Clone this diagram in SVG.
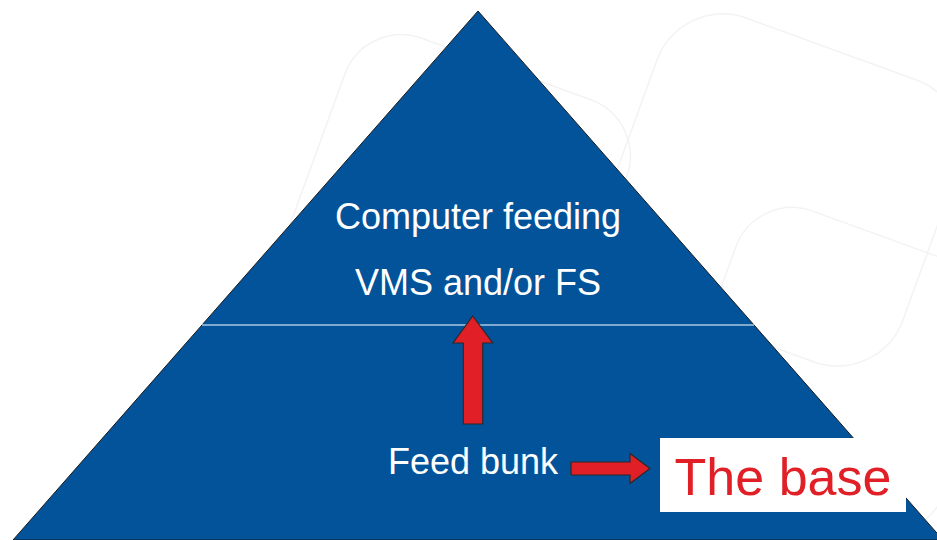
<svg xmlns="http://www.w3.org/2000/svg" width="937" height="540" viewBox="0 0 937 540">
<style>
.lbl{font-family:"Liberation Sans",Arial,sans-serif;fill:#ffffff;text-anchor:middle;font-size:36px}
.arrow{fill:#e01f26;stroke:#2a2a2a;stroke-width:1.2;stroke-linejoin:miter}
.bg{fill:none;stroke:#f3f3f3;stroke-width:1.5}
</style>
<rect width="937" height="540" fill="#ffffff"/>
<g id="background">
<rect class="bg" x="305" y="60" width="300" height="300" rx="60" transform="rotate(20 455 210)"/>
<rect class="bg" x="620" y="40" width="320" height="300" rx="70" transform="rotate(20 780 190)"/>
<rect class="bg" x="700" y="230" width="280" height="280" rx="60" transform="rotate(20 840 370)"/>
</g>
<g id="pyramid">
<polygon points="478,11 13,540 943,540" fill="#03539b" stroke="#1a1a1a" stroke-width="1"/>
<line x1="202" y1="325" x2="754" y2="325" stroke="#a9c7e2" stroke-width="1.5"/>
</g>
<g id="top">
<text class="lbl" x="478" y="229">Computer feeding</text>
<text class="lbl" x="478" y="295">VMS and/or FS</text>
</g>
<g id="bottom">
<text class="lbl" x="473" y="474">Feed bunk</text>
</g>
<g id="base-label">
<rect x="660" y="438" width="246" height="74" fill="#ffffff"/>
<text x="783" y="495" font-family="'Liberation Sans',Arial,sans-serif" font-size="52" fill="#e01f26" text-anchor="middle">The base</text>
</g>
<g id="connectors">
<polygon class="arrow" points="472.7,316 492.7,343 482.7,343 482.7,424 463.3,424 463.3,343 453,343"/>
<polygon class="arrow" points="571,462 630,462 630,453.5 650,468.5 630,483.5 630,475 571,475"/>
</g>
</svg>
